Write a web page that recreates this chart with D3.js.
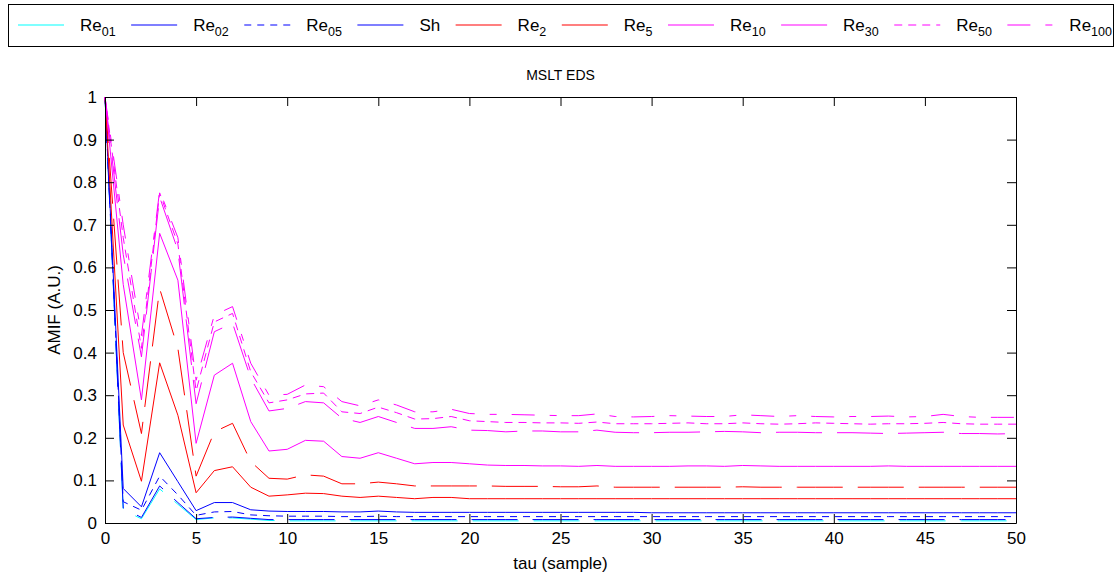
<!DOCTYPE html>
<html>
<head>
<meta charset="utf-8">
<script src="https://cdn.jsdelivr.net/npm/d3@7/dist/d3.min.js"></script>
<style>
  body { margin: 0; background: #fff; }
  svg { display: block; }
  text { font-family: "Liberation Sans", Arial, Helvetica, sans-serif; fill: #000; }
</style>
</head>
<body>
<svg id="chart" width="1118" height="577"></svg>
<script>
// lag axis (samples)
const tau = d3.range(0, 51);

// AMIF curves, one value per lag 0..50
const re01 = [1, 0.030, 0.010, 0.080, 0.044, 0.008, 0.012, 0.012, 0.009, 0.006,
  0.005, 0.005, 0.005, 0.005, 0.005, 0.005, 0.005, 0.005, 0.005, 0.005,
  0.005, 0.005, 0.005, 0.005, 0.005, 0.005, 0.005, 0.005, 0.005, 0.005,
  0.005, 0.005, 0.005, 0.005, 0.005, 0.005, 0.005, 0.005, 0.005, 0.005,
  0.005, 0.005, 0.005, 0.005, 0.005, 0.005, 0.005, 0.005, 0.005, 0.005, 0.005];
const re02 = [1, 0.035, 0.013, 0.087, 0.048, 0.010, 0.013, 0.014, 0.011, 0.008,
  0.008, 0.008, 0.008, 0.008, 0.008, 0.008, 0.008, 0.008, 0.008, 0.008,
  0.008, 0.008, 0.008, 0.008, 0.008, 0.008, 0.008, 0.008, 0.008, 0.008,
  0.008, 0.008, 0.008, 0.008, 0.008, 0.008, 0.008, 0.008, 0.008, 0.008,
  0.008, 0.008, 0.008, 0.008, 0.008, 0.008, 0.008, 0.008, 0.008, 0.008, 0.008];
const re05 = [1, 0.050, 0.030, 0.110, 0.066, 0.018, 0.026, 0.027, 0.019, 0.017,
  0.016, 0.016, 0.016, 0.015, 0.015, 0.016, 0.015, 0.015, 0.015, 0.015,
  0.015, 0.015, 0.015, 0.015, 0.015, 0.015, 0.015, 0.015, 0.015, 0.015,
  0.015, 0.015, 0.015, 0.015, 0.015, 0.015, 0.015, 0.015, 0.015, 0.015,
  0.015, 0.015, 0.015, 0.015, 0.015, 0.015, 0.015, 0.015, 0.015, 0.015, 0.015];
const sh = [1, 0.081, 0.038, 0.165, 0.097, 0.029, 0.048, 0.048, 0.031, 0.028,
  0.027, 0.027, 0.027, 0.026, 0.026, 0.028, 0.026, 0.025, 0.025, 0.025,
  0.025, 0.025, 0.025, 0.025, 0.025, 0.025, 0.025, 0.025, 0.025, 0.025,
  0.024, 0.024, 0.024, 0.024, 0.024, 0.024, 0.024, 0.024, 0.024, 0.024,
  0.024, 0.024, 0.024, 0.024, 0.024, 0.024, 0.024, 0.024, 0.024, 0.024, 0.024];
const re2 = [1, 0.230, 0.098, 0.376, 0.253, 0.071, 0.123, 0.132, 0.084, 0.063,
  0.066, 0.070, 0.069, 0.063, 0.060, 0.063, 0.060, 0.057, 0.060, 0.060,
  0.057, 0.057, 0.057, 0.057, 0.057, 0.057, 0.057, 0.057, 0.057, 0.057,
  0.057, 0.057, 0.057, 0.057, 0.057, 0.057, 0.057, 0.057, 0.057, 0.057,
  0.057, 0.057, 0.057, 0.057, 0.057, 0.057, 0.057, 0.057, 0.057, 0.057, 0.057];
const re5 = [1, 0.400, 0.210, 0.550, 0.410, 0.110, 0.214, 0.234, 0.144, 0.105,
  0.103, 0.113, 0.110, 0.092, 0.092, 0.096, 0.092, 0.087, 0.087, 0.087,
  0.087, 0.087, 0.086, 0.086, 0.086, 0.085, 0.085, 0.087, 0.084, 0.084,
  0.084, 0.084, 0.084, 0.084, 0.084, 0.085, 0.084, 0.084, 0.084, 0.084,
  0.084, 0.084, 0.084, 0.084, 0.084, 0.084, 0.084, 0.084, 0.084, 0.084, 0.084];
const re10 = [1, 0.560, 0.289, 0.680, 0.570, 0.187, 0.347, 0.375, 0.238, 0.169,
  0.173, 0.194, 0.192, 0.156, 0.152, 0.165, 0.152, 0.139, 0.142, 0.142,
  0.139, 0.136, 0.135, 0.135, 0.134, 0.134, 0.133, 0.135, 0.133, 0.133,
  0.133, 0.133, 0.134, 0.134, 0.133, 0.135, 0.134, 0.133, 0.133, 0.133,
  0.133, 0.133, 0.133, 0.134, 0.133, 0.133, 0.133, 0.133, 0.133, 0.133, 0.133];
const re30 = [1, 0.630, 0.390, 0.765, 0.640, 0.280, 0.449, 0.469, 0.340, 0.263,
  0.269, 0.285, 0.282, 0.246, 0.236, 0.250, 0.236, 0.222, 0.222, 0.226,
  0.218, 0.217, 0.214, 0.216, 0.216, 0.214, 0.214, 0.218, 0.213, 0.212,
  0.212, 0.213, 0.213, 0.214, 0.215, 0.214, 0.212, 0.213, 0.213, 0.212,
  0.212, 0.212, 0.211, 0.210, 0.211, 0.212, 0.213, 0.210, 0.210, 0.209, 0.210];
const re50 = [1, 0.670, 0.410, 0.775, 0.655, 0.310, 0.472, 0.492, 0.355, 0.282,
  0.289, 0.303, 0.305, 0.261, 0.257, 0.272, 0.259, 0.244, 0.245, 0.250,
  0.240, 0.238, 0.236, 0.236, 0.235, 0.235, 0.234, 0.237, 0.233, 0.233,
  0.233, 0.234, 0.235, 0.233, 0.233, 0.235, 0.233, 0.232, 0.233, 0.235,
  0.234, 0.233, 0.232, 0.233, 0.233, 0.234, 0.236, 0.233, 0.232, 0.232, 0.232];
const re100 = [1, 0.700, 0.440, 0.780, 0.670, 0.335, 0.488, 0.508, 0.375, 0.300,
  0.302, 0.324, 0.320, 0.285, 0.275, 0.289, 0.277, 0.261, 0.261, 0.267,
  0.257, 0.255, 0.255, 0.254, 0.253, 0.252, 0.252, 0.256, 0.250, 0.249,
  0.250, 0.252, 0.251, 0.250, 0.250, 0.254, 0.252, 0.250, 0.252, 0.250,
  0.249, 0.250, 0.250, 0.251, 0.249, 0.250, 0.255, 0.250, 0.248, 0.248, 0.248];

// legend labels: base text and subscript
const labelBase = ["Re", "Re", "Re", "Sh", "Re", "Re", "Re", "Re", "Re", "Re"];
const labelSub  = ["01", "02", "05", "",   "2",  "5",  "10", "30", "50", "100"];
const seriesValues = [re01, re02, re05, sh, re2, re5, re10, re30, re50, re100];

const yTicks = [0, 0.1, 0.2, 0.3, 0.4, 0.5, 0.6, 0.7, 0.8, 0.9, 1];
const xTicks = [0, 5, 10, 15, 20, 25, 30, 35, 40, 45, 50];

// line styles
const colors = ["#00ffff", "#0000ff", "#0000ff", "#0000ff", "#ff0000", "#ff0000",
                "#ff00ff", "#ff00ff", "#ff00ff", "#ff00ff"];
const dashes = ["46,15", "46,15", "7,6", null, null, "46,15",
                null, "46,15", "8,6", "23,15,7,15"];

const svg = d3.select("#chart");
const pL = 105, pR = 1016, pT = 97, pB = 523;

const x = d3.scaleLinear().domain([0, 50]).range([pL, pR]);
const y = d3.scaleLinear().domain([0, 1]).range([pB, pT]);

// title
svg.append("text")
  .attr("x", (pL + pR) / 2).attr("y", 80)
  .attr("text-anchor", "middle")
  .style("font-size", "14px")
  .text("MSLT EDS");

// curves
const lineGen = d3.line().x((d, i) => x(tau[i])).y(d => y(d));
const plot = svg.append("g");
seriesValues.forEach((vals, k) => {
  plot.append("path")
    .datum(vals)
    .attr("d", lineGen)
    .style("fill", "none")
    .style("stroke", colors[k])
    .style("stroke-width", 1)
    .style("stroke-dasharray", dashes[k] || "none");
});

// axes with inward ticks on all four sides
const tickLen = 9;
const fmtY = d => d3.format("~g")(d);
const axB = svg.append("g").attr("transform", `translate(0,${pB})`)
  .call(d3.axisBottom(x).tickValues(xTicks).tickSizeInner(-tickLen).tickSizeOuter(0).tickPadding(9));
const axT = svg.append("g").attr("transform", `translate(0,${pT})`)
  .call(d3.axisTop(x).tickValues(xTicks).tickSizeInner(-tickLen).tickSizeOuter(0).tickFormat(""));
const axL = svg.append("g").attr("transform", `translate(${pL},0)`)
  .call(d3.axisLeft(y).tickValues(yTicks).tickSizeInner(-tickLen).tickSizeOuter(0).tickPadding(8).tickFormat(fmtY));
const axR = svg.append("g").attr("transform", `translate(${pR},0)`)
  .call(d3.axisRight(y).tickValues(yTicks).tickSizeInner(-tickLen).tickSizeOuter(0).tickFormat(""));

[axB, axT, axL, axR].forEach(g => {
  g.attr("font-size", null).attr("font-family", null);
  g.select(".domain").attr("stroke", "#000").attr("stroke-width", 1);
  g.selectAll(".tick line").attr("stroke", "#000");
  g.selectAll(".tick text")
    .style("font-size", "17px")
    .attr("fill", "#000");
});

// axis titles
svg.append("text")
  .attr("x", (pL + pR) / 2).attr("y", 569)
  .attr("text-anchor", "middle")
  .style("font-size", "17px")
  .text("tau (sample)");
svg.append("text")
  .attr("transform", `translate(60,${(pT + pB) / 2}) rotate(-90)`)
  .attr("text-anchor", "middle")
  .style("font-size", "17px")
  .text("AMIF (A.U.)");

// legend across the top
svg.append("rect")
  .attr("x", 8.5).attr("y", 4.5)
  .attr("width", 1105).attr("height", 42)
  .style("fill", "#fff").style("stroke", "#000").style("stroke-width", 1);

const leg = svg.append("g");
const lineLen = 46, gapText = 16, gapNext = 12;
const items = labelBase.map((b, k) => {
  const g = leg.append("g");
  const t = g.append("text").attr("y", 31).style("font-size", "17px");
  t.append("tspan").text(b);
  if (labelSub[k]) {
    t.append("tspan").attr("dy", 5).style("font-size", "12.5px").text(labelSub[k]);
  }
  return { g, t, w: t.node().getBBox().width };
});
const totalW = d3.sum(items, d => lineLen + gapText + d.w) + gapNext * (items.length - 1);
const extra = (1094 - totalW) / (items.length - 1);
let cx = 18;
items.forEach((it, k) => {
  it.g.append("line")
    .attr("x1", cx).attr("x2", cx + lineLen)
    .attr("y1", 25).attr("y2", 25)
    .style("stroke", colors[k])
    .style("stroke-width", 1.2)
    .style("stroke-dasharray", dashes[k] === "46,15" ? "none" : (dashes[k] || "none"));
  it.t.attr("x", cx + lineLen + gapText);
  cx += lineLen + gapText + it.w + gapNext + extra;
});
</script>
</body>
</html>
